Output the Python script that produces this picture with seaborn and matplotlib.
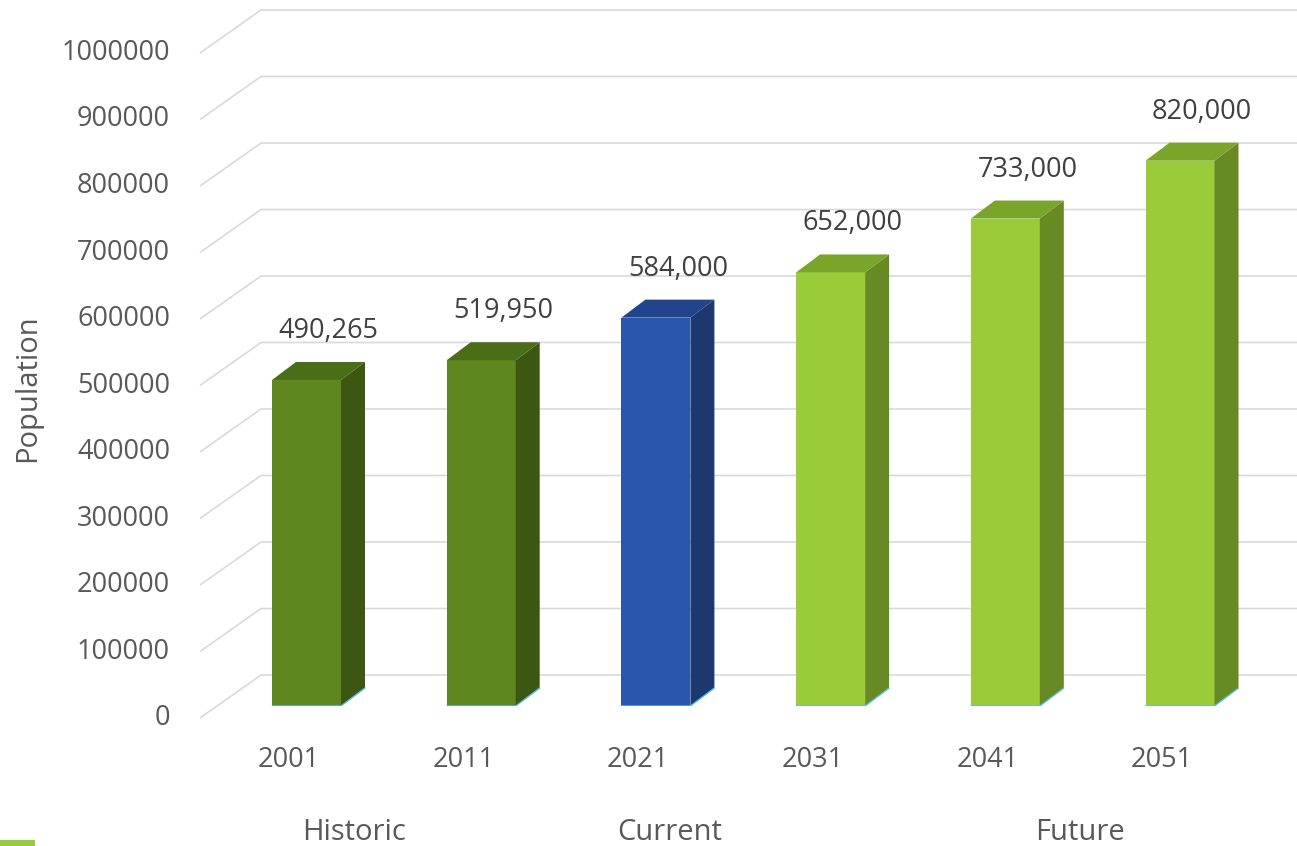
import matplotlib
matplotlib.use("Agg")
import matplotlib.pyplot as plt
import matplotlib.transforms as mtransforms
from matplotlib.patches import Polygon, Rectangle
import seaborn as sns
import pandas as pd

years = ['2001', '2011', '2021', '2031', '2041', '2051']
population = [490265, 519950, 584000, 652000, 733000, 820000]
period = ['Historic', 'Historic', 'Current', 'Future', 'Future', 'Future']
value_labels = ['490,265', '519,950', '584,000', '652,000', '733,000', '820,000']
y_ticks = [0, 100000, 200000, 300000, 400000, 500000, 600000, 700000, 800000, 900000, 1000000]
group_names = ['Historic', 'Current', 'Future']

# position of the group captions along the category axis
group_pos = [0.27, 2.08, 4.43]

front = {'Historic': '#5e871f', 'Current': '#2a56ae', 'Future': '#9acb38'}
side = {'Historic': '#3d5712', 'Current': '#1d386f', 'Future': '#678a24'}
top = {'Historic': '#4a6e17', 'Current': '#22448e', 'Future': '#7aa52b'}

df = pd.DataFrame({'Year': years, 'Population': population, 'Period': period})

sns.set_style('white')
plt.rcParams['font.family'] = ['Open Sans', 'DejaVu Sans']
text_col = '#595959'

W, H = 1297, 846
fig = plt.figure(figsize=(W / 100, H / 100), dpi=100)
ax = fig.add_axes([218 / W, (H - 706) / H, 1036 / W, 665 / H])

sns.barplot(data=df, x='Year', y='Population', hue='Period', palette=front,
            dodge=False, width=0.395, saturation=1, legend=False, ax=ax)
ax.set_xlim(-0.5066, 5.4235)
ax.set_ylim(0, 1000000)
for s in ax.spines.values():
    s.set_visible(False)
ax.set_xticks([])
ax.set_yticks([])
ax.set_xlabel('')
ax.set_ylabel('')

# pixels per data unit
p0 = ax.transData.transform((0, 0))
p1 = ax.transData.transform((1, 1))
ppx, ppy = p1[0] - p0[0], p1[1] - p0[1]

xl, xr = ax.get_xlim()

# perspective gridlines (floor front -> back wall)
for v in y_ticks:
    xs = [xl - 18 / ppx, xl + 43 / ppx, xr + 43 / ppx]
    ys = [v - 12 / ppy, v + 31 / ppy, v + 31 / ppy]
    ax.plot(xs, ys, color='#d9d9d9', lw=1.2, zorder=0.5, clip_on=False,
            solid_capstyle='butt')

tick_tr = mtransforms.offset_copy(ax.transData, fig, x=-48, y=-12, units='dots')
for v in y_ticks:
    ax.text(xl, v, str(v), transform=tick_tr, ha='right', va='center',
            fontsize=19.5, color=text_col)

# 3D faces of the bars
dx, dy = 24 / ppx, 18 / ppy
bars = sorted(ax.patches, key=lambda p: p.get_x())
bars = [b for b in bars if b.get_height() > 0]
for bar, grp in zip(bars, period):
    bar.set_zorder(2)
    bar.set_linewidth(0)
    x0 = bar.get_x()
    x1 = x0 + bar.get_width()
    h = bar.get_height()
    ax.add_patch(Polygon([(x1, 0), (x1, h), (x1 + dx, h + dy), (x1 + dx, dy)],
                         closed=True, facecolor=side[grp], edgecolor='none', zorder=2))
    ax.add_patch(Polygon([(x0, h), (x1, h), (x1 + dx, h + dy), (x0 + dx, h + dy)],
                         closed=True, facecolor=top[grp], edgecolor='none', zorder=2))
    ax.plot([x0, x1, x1 + dx], [0, 0, dy], color='#5bbfe0', lw=1, zorder=2.5)

val_tr = mtransforms.offset_copy(ax.transData, fig, x=22, y=49, units='dots')
for i, (v, lab) in enumerate(zip(population, value_labels)):
    ax.text(i, v, lab, transform=val_tr, ha='center', va='center',
            fontsize=19.5, color='#404040')

cat_tr = mtransforms.offset_copy(ax.transData, fig, x=-18, y=-54, units='dots')
for i, yr in enumerate(years):
    ax.text(i, 0, yr, transform=cat_tr, ha='center', va='center',
            fontsize=19.5, color=text_col)

grp_tr = mtransforms.offset_copy(ax.transData, fig, x=0, y=-126, units='dots')
for gx, g in zip(group_pos, group_names):
    ax.text(gx, 0, g, transform=grp_tr, ha='center', va='center',
            fontsize=21, color=text_col)

fig.text(28 / W, 1 - 388 / H, 'Population', rotation=90, ha='center', va='center',
         fontsize=21, color=text_col)

fig.add_artist(Rectangle((0, 0), 35 / W, 6 / H, transform=fig.transFigure,
                         facecolor='#9acb38', edgecolor='none'))

fig.savefig('out.png', dpi=100, facecolor='white')
